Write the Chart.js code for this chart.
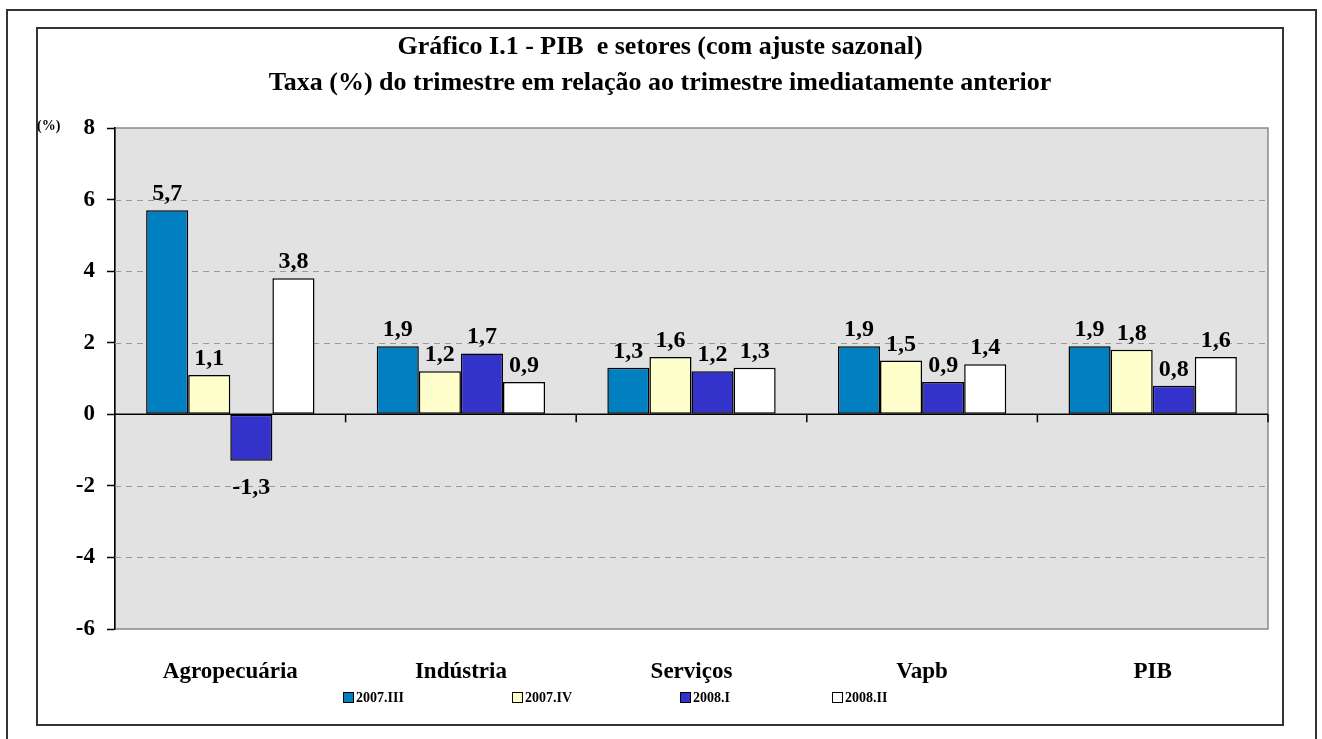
<!DOCTYPE html>
<html>
<head>
<meta charset="utf-8">
<script src="https://cdn.jsdelivr.net/npm/chart.js@4"></script>
<style>
  html, body { margin: 0; padding: 0; background: #fff; }
  #wrap { width: 1322px; height: 739px; position: relative; }
</style>
</head>
<body>
<div id="wrap"><canvas id="pibChart"></canvas></div>
<script>
const categories = ["Agropecuária", "Indústria", "Serviços", "Vapb", "PIB"];
const quarters = ["2007.III", "2007.IV", "2008.I", "2008.II"];
const v2007III = [5.7, 1.9, 1.3, 1.9, 1.9];
const v2007IV = [1.1, 1.2, 1.6, 1.5, 1.8];
const v2008I = [-1.3, 1.7, 1.2, 0.9, 0.8];
const v2008II = [3.8, 0.9, 1.3, 1.4, 1.6];
const yTicks = [8, 6, 4, 2, 0, -2, -4, -6];

const titleLines = [
  "Gráfico I.1 - PIB  e setores (com ajuste sazonal)",
  "Taxa (%) do trimestre em relação ao trimestre imediatamente anterior"
];
const colors = ["#0080C0", "#FFFFCC", "#3333CC", "#FFFFFF"];

const serif = "'Liberation Serif', 'Times New Roman', serif";

// frames, plot background, grid, zero line, labels, title, legend
const decorPlugin = {
  id: "decor",
  beforeDraw(chart) {
    const ctx = chart.ctx;
    const a = chart.chartArea;
    ctx.save();
    ctx.fillStyle = "#fff";
    ctx.fillRect(0, 0, chart.width, chart.height);
    ctx.strokeStyle = "#333";
    ctx.lineWidth = 2;
    ctx.strokeRect(7, 10, 1309, 745);
    ctx.strokeRect(37, 28, 1246, 697);
    ctx.fillStyle = "#E2E2E2";
    ctx.fillRect(a.left, a.top, a.right - a.left, a.bottom - a.top);
    ctx.strokeStyle = "#8a8a8a";
    ctx.lineWidth = 1.5;
    ctx.strokeRect(a.left, a.top, a.right - a.left, a.bottom - a.top);
    ctx.restore();
  },
  beforeDatasetsDraw(chart) {
    const ctx = chart.ctx;
    const a = chart.chartArea;
    const y = chart.scales.y;
    const x = chart.scales.x;
    ctx.save();
    ctx.strokeStyle = "#9a9a9a";
    ctx.lineWidth = 1.2;
    ctx.setLineDash([6, 5]);
    yTicks.forEach(v => {
      if (v === 0 || v === 8 || v === -6) return;
      const py = Math.round(y.getPixelForValue(v)) + 0.5;
      ctx.beginPath();
      ctx.moveTo(a.left, py);
      ctx.lineTo(a.right, py);
      ctx.stroke();
    });
    ctx.setLineDash([]);
    const y0 = y.getPixelForValue(0);
    ctx.strokeStyle = "#000";
    ctx.lineWidth = 1.5;
    ctx.beginPath();
    ctx.moveTo(a.left, y0);
    ctx.lineTo(a.right, y0);
    ctx.stroke();
    for (let i = 0; i < categories.length; i++) {
      const bx = i < categories.length - 1
        ? (x.getPixelForValue(i) + x.getPixelForValue(i + 1)) / 2
        : a.right;
      ctx.beginPath();
      ctx.moveTo(bx, y0);
      ctx.lineTo(bx, y0 + 8);
      ctx.stroke();
    }
    ctx.restore();
  },
  afterDatasetsDraw(chart) {
    const ctx = chart.ctx;
    ctx.save();
    ctx.fillStyle = "#000";
    ctx.font = "bold 24px " + serif;
    ctx.textAlign = "center";
    ctx.textBaseline = "alphabetic";
    chart.data.datasets.forEach((ds, di) => {
      chart.getDatasetMeta(di).data.forEach((bar, i) => {
        const v = ds.data[i];
        const txt = v.toFixed(1).replace(".", ",");
        if (v >= 0) {
          ctx.fillText(txt, bar.x, bar.y - 10);
        } else {
          ctx.fillText(txt, bar.x, bar.y + 33);
        }
      });
    });
    ctx.restore();
  },
  afterDraw(chart) {
    const ctx = chart.ctx;
    ctx.save();
    ctx.fillStyle = "#000";
    ctx.textAlign = "center";
    ctx.textBaseline = "middle";
    ctx.font = "bold 26px " + serif;
    ctx.fillText(titleLines[0], 660, 47);
    ctx.fillText(titleLines[1], 660, 83);
    ctx.textAlign = "left";
    ctx.font = "bold 14px " + serif;
    ctx.fillText("(%)", 37, 126);
    // legend
    const starts = [343, 512, 680, 832];
    ctx.font = "bold 14px " + serif;
    chart.data.datasets.forEach((ds, i) => {
      const lx = starts[i];
      ctx.fillStyle = ds.backgroundColor;
      ctx.fillRect(lx, 692, 10, 10);
      ctx.strokeStyle = "#000";
      ctx.lineWidth = 1;
      ctx.strokeRect(lx + 0.5, 692.5, 10, 10);
      ctx.fillStyle = "#000";
      ctx.fillText(ds.label, lx + 13, 698);
    });
    ctx.restore();
  }
};

new Chart(document.getElementById("pibChart"), {
  type: "bar",
  data: {
    labels: categories,
    datasets: [
      { label: quarters[0], data: v2007III, backgroundColor: colors[0] },
      { label: quarters[1], data: v2007IV, backgroundColor: colors[1] },
      { label: quarters[2], data: v2008I, backgroundColor: colors[2] },
      { label: quarters[3], data: v2008II, backgroundColor: colors[3] }
    ].map(d => Object.assign(d, {
      borderColor: "#000",
      borderWidth: 1.5,
      borderSkipped: false,
      categoryPercentage: 0.73,
      barPercentage: 1
    }))
  },
  options: {
    responsive: true,
    maintainAspectRatio: false,
    animation: false,
    layout: { padding: { left: 0, right: 54, top: 128, bottom: 0 } },
    plugins: {
      legend: { display: false },
      title: { display: false },
      tooltip: { enabled: false }
    },
    scales: {
      x: {
        grid: { display: false },
        border: { display: false },
        ticks: {
          color: "#000",
          padding: 21,
          font: { family: serif, size: 23, weight: "bold" }
        },
        afterFit(scale) { scale.height = 110; }
      },
      y: {
        min: -6,
        max: 8,
        afterBuildTicks(scale) {
          scale.ticks = yTicks.map(v => ({ value: v }));
        },
        grid: {
          display: true,
          drawOnChartArea: false,
          drawTicks: true,
          tickLength: 8,
          tickColor: "#000",
          tickWidth: 1.5
        },
        border: { display: true, color: "#000", width: 1.5 },
        ticks: {
          color: "#000",
          padding: 12,
          font: { family: serif, size: 23, weight: "bold" }
        },
        afterFit(scale) { scale.width = 115; }
      }
    }
  },
  plugins: [decorPlugin]
});
</script>
</body>
</html>
